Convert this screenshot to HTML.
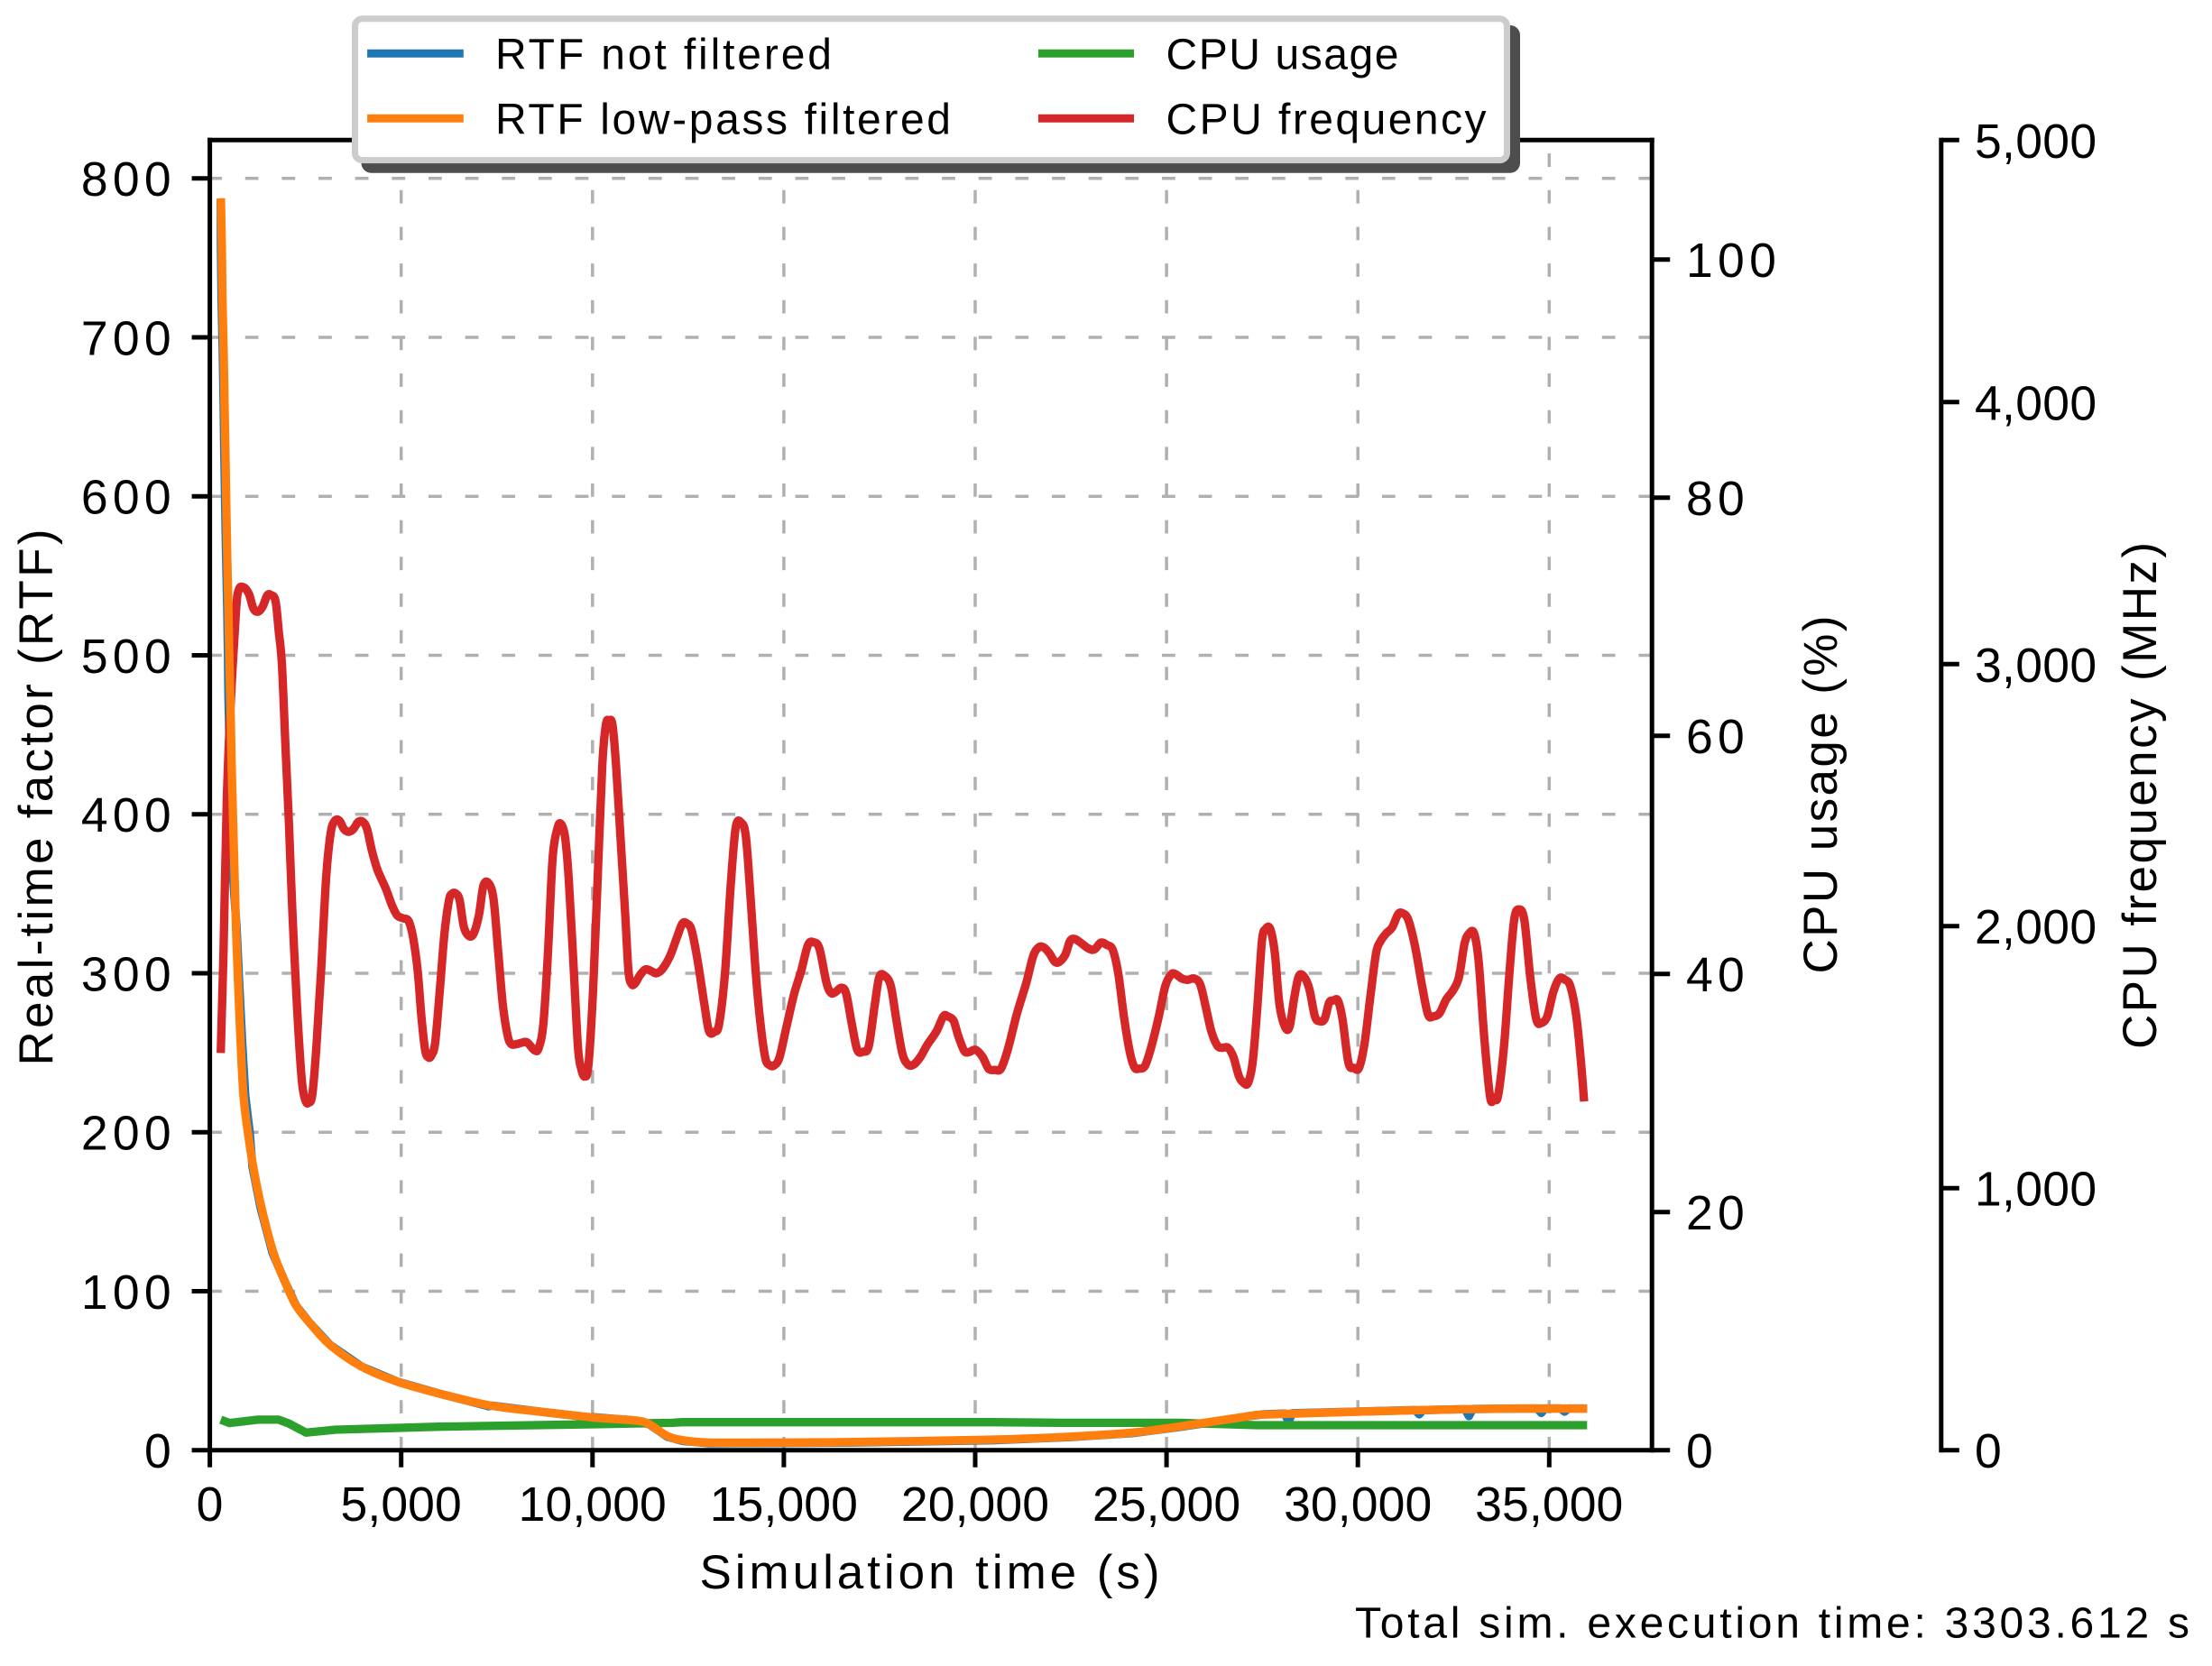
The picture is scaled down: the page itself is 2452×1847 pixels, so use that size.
<!DOCTYPE html>
<html lang="en">
<head>
<meta charset="utf-8">
<title>RTF and CPU chart</title>
<style>
html,body{margin:0;padding:0;background:#fff;}
body{width:2452px;height:1847px;overflow:hidden;}
svg{display:block;}
text{font-family:"Liberation Sans",sans-serif;fill:#000;}
</style>
</head>
<body>
<svg id="chart" xmlns="http://www.w3.org/2000/svg" width="2452" height="1847" viewBox="0 0 2452 1847">
  <rect x="0" y="0" width="2452" height="1847" fill="#fff"/>
  <g id="grid"></g>
  <g id="series"></g>
  <g id="axes"></g>

  <text x="1030.5" y="1761" text-anchor="middle" font-size="53" textLength="510" lengthAdjust="spacing">Simulation time (s)</text>
  <text transform="translate(58,884) rotate(-90)" text-anchor="middle" font-size="53" textLength="595" lengthAdjust="spacing">Real-time factor (RTF)</text>
  <text transform="translate(2036,881) rotate(-90)" text-anchor="middle" font-size="53" textLength="397" lengthAdjust="spacing">CPU usage (%)</text>
  <text transform="translate(2390,882) rotate(-90)" text-anchor="middle" font-size="53" textLength="562" lengthAdjust="spacing">CPU frequency (MHz)</text>
  <text x="1502" y="1815.7" font-size="48" textLength="925" lengthAdjust="spacing">Total sim. execution time: 3303.612 s</text>

  <g>
    <rect x="400.5" y="28" width="1284.5" height="163.7" rx="11" fill="#4d4d4d"/>
    <rect x="393.5" y="20.8" width="1277" height="156.8" rx="8" fill="#fff" stroke="#cccccc" stroke-width="7"/>
    <g>
      <line x1="407.1" x2="513.8" y1="59.3" y2="59.3" stroke="#1f77b4" stroke-width="9"/>
      <text x="549" y="76.7" font-size="48" textLength="373" lengthAdjust="spacing">RTF not filtered</text>
    </g>
    <g>
      <line x1="407.1" x2="513.8" y1="131.3" y2="131.3" stroke="#ff7f0e" stroke-width="9"/>
      <text x="549" y="148.3" font-size="48" textLength="505" lengthAdjust="spacing">RTF low-pass filtered</text>
    </g>
    <g>
      <line x1="1150.9" x2="1257" y1="59.3" y2="59.3" stroke="#2ca02c" stroke-width="9"/>
      <text x="1292.5" y="76.7" font-size="48" textLength="258" lengthAdjust="spacing">CPU usage</text>
    </g>
    <g>
      <line x1="1150.9" x2="1257" y1="131.3" y2="131.3" stroke="#d62728" stroke-width="9"/>
      <text x="1292.5" y="148.3" font-size="48" textLength="355" lengthAdjust="spacing">CPU frequency</text>
    </g>
  </g>
</svg>
<script>
const xTicks = [0, 5000, 10000, 15000, 20000, 25000, 30000, 35000];
const xTickLabels = ['0', '5,000', '10,000', '15,000', '20,000', '25,000', '30,000', '35,000'];
const rtfTicks = [0, 100, 200, 300, 400, 500, 600, 700, 800];
const rtfTickLabels = ['0', '100', '200', '300', '400', '500', '600', '700', '800'];
const usageTicks = [0, 20, 40, 60, 80, 100];
const usageTickLabels = ['0', '20', '40', '60', '80', '100'];
const freqTicks = [0, 1000, 2000, 3000, 4000, 5000];
const freqTickLabels = ['0', '1,000', '2,000', '3,000', '4,000', '5,000'];

const blueTime = [285,290,306,337,360,378,401,425,456,474,486,502,519,556,597,699,768,841,926,1044,1112,1326,1639,1980,2254,2612,3153,3965,4912,5994,7180,7280,7380,8700,9790,9890,9990,11135,11475,11947,12353,13030,15000,16820,20440,22478,24104,25323,26584,26684,26784,27152,27558,28088,28188,28288,29590,31500,31602,31704,32800,32902,33004,33857,34690,34792,34894,35300,35402,35504,35990];
const blueRtf = [787,756,724,691,659,626,593.5,562,528,499,474,458,435,400,364,329,294,258.5,223,199.5,178.5,152.5,124,105,91,80,66,52.6,43,35.6,28.3,27.6,28,24,21,17.2,20.8,18.6,16.3,8.5,5.8,4.4,4.5,4.8,6.2,8.2,10.7,14.5,19,16.3,19.5,21.4,22.6,23,18,23.2,24,25.2,22.5,25.2,25.8,21.4,25.9,26.1,26.2,23.4,26.2,26.2,24.2,26.2,26.2];

const orangeTime = [290,314,330,361,384,408,431,455,486,509,533,549,566,603,644,684,738,801,879,997,1132,1351,1664,1980,2254,2612,3153,3965,4912,5994,7347,8700,10053,11135,11475,11947,12353,13030,15000,16820,20440,22478,24104,25323,27152,27558,29590,31622,33857,35990];
const orangeRtf = [787.5,756,724,691,659,626,593.5,562,528,499,474,458,435,400,364,329,294,258.5,223,199.5,178.5,152.5,124,105,91,80,66,52.6,43,35.6,28,24,20.5,18.6,16.3,9,6.3,4.8,4.8,5.1,6.6,8.5,11,14.8,21.4,22.4,23.9,25.2,26.1,26.1];

const usageTime = [285,514,1258,1800,2070,2517,3288,5994,10053,12082,12353,20446,22275,25323,27355,35990];
const usagePercent = [2.56,2.28,2.56,2.56,2.23,1.47,1.72,1.97,2.18,2.3,2.35,2.35,2.3,2.3,2.1,2.1];

const freqTime = [285,357,441,537,682,754,874,1018,1139,1259,1379,1499,1596,1716,1800,1884,1981,2065,2161,2281,2402,2498,2582,2678,2786,2907,3039,3159,3268,3388,3508,3628,3749,3881,4001,4109,4242,4386,4602,4747,4891,5047,5192,5312,5432,5528,5625,5709,5793,5889,6010,6130,6250,6334,6431,6527,6635,6755,6888,7032,7152,7297,7417,7537,7657,7778,7874,8018,8175,8295,8487,8595,8716,8836,8956,9077,9173,9281,9377,9497,9618,9702,9798,9894,10015,10135,10255,10351,10435,10520,10616,10736,10856,10940,11025,11121,11241,11386,11542,11662,11819,12023,12204,12348,12468,12588,12745,12925,13045,13190,13310,13466,13611,13743,13887,14008,14128,14248,14368,14513,14633,14753,14886,15066,15270,15451,15631,15787,15932,16112,16232,16353,16509,16629,16774,16918,17074,17219,17375,17495,17640,17796,17940,18097,18241,18397,18569,18749,18990,19170,19291,19435,19555,19712,19832,20012,20193,20349,20517,20674,20854,21095,21335,21516,21660,21792,21937,22081,22201,22358,22478,22598,22754,22959,23115,23284,23440,23596,23741,23885,24041,24162,24282,24438,24607,24799,24967,25124,25244,25400,25545,25725,25881,26026,26170,26326,26447,26603,26747,26892,27012,27132,27253,27373,27493,27589,27710,27830,27950,28094,28215,28335,28455,28588,28732,28876,28997,29129,29249,29357,29478,29598,29754,29899,30031,30175,30331,30476,30596,30740,30897,31053,31173,31318,31498,31679,31835,31979,32135,32304,32484,32641,32785,32905,33038,33158,33302,33458,33566,33663,33819,33964,34084,34204,34349,34505,34661,34806,34950,35106,35263,35407,35551,35708,35828,35912];
const freqMhz = [1516,1899,2470,2827,3198,3283,3294,3269,3212,3200,3219,3262,3264,3241,3126,2998,2670,2399,2042,1685,1414,1335,1326,1357,1542,1828,2184,2356,2402,2402,2370,2360,2370,2398,2398,2370,2284,2213,2142,2084,2042,2030,2020,1956,1828,1656,1528,1499,1507,1556,1756,1970,2099,2124,2124,2099,1999,1964,1970,2042,2156,2162,2099,1899,1699,1585,1550,1550,1556,1556,1526,1535,1628,1899,2256,2370,2391,2341,2184,1870,1542,1457,1426,1471,1756,2184,2613,2770,2783,2770,2613,2327,2042,1828,1778,1783,1813,1835,1828,1820,1835,1885,1956,2010,2010,1985,1870,1699,1599,1597,1628,1828,2156,2377,2395,2341,2113,1856,1656,1499,1469,1469,1499,1614,1742,1828,1928,1938,1913,1785,1745,1749,1765,1742,1628,1528,1521,1542,1699,1806,1810,1771,1642,1514,1472,1472,1501,1547,1599,1656,1655,1639,1582,1524,1519,1528,1501,1456,1451,1456,1530,1668,1783,1886,1919,1919,1897,1864,1864,1892,1943,1951,1937,1915,1911,1937,1928,1909,1817,1656,1519,1461,1456,1467,1542,1656,1771,1816,1816,1800,1795,1800,1777,1691,1599,1544,1536,1536,1501,1427,1402,1402,1484,1691,1943,1989,1989,1897,1702,1616,1616,1725,1808,1808,1760,1656,1637,1645,1708,1716,1716,1645,1478,1459,1459,1553,1737,1897,1943,1972,1995,2046,2049,2024,1920,1771,1662,1656,1668,1719,1754,1805,1932,1972,1972,1863,1576,1346,1346,1352,1542,1828,2024,2064,2024,1805,1645,1631,1656,1748,1800,1796,1771,1656,1484,1331];

const PLOT_LEFT = 232.6, PLOT_RIGHT = 1831.2, PLOT_TOP = 155.3, PLOT_BOTTOM = 1607.7, FAR_SPINE = 2151.8;
const LEFT_ZERO_TO_800 = 1410, USAGE_ZERO_TO_100 = 1320, FREQ_ZERO_TO_5000 = 1452.4, X_ZERO_TO_35000 = 1484.7;

function scaleX(t) { return PLOT_LEFT + t / 35000 * X_ZERO_TO_35000; }
function scaleRtf(v) { return PLOT_BOTTOM - v / 800 * LEFT_ZERO_TO_800; }
function scaleUsage(v) { return PLOT_BOTTOM - v / 100 * USAGE_ZERO_TO_100; }
function scaleFreq(v) { return PLOT_BOTTOM - v / 5000 * FREQ_ZERO_TO_5000; }

const NS = 'http://www.w3.org/2000/svg';
function make(tag, parent, attrs) {
  const el = document.createElementNS(NS, tag);
  for (const k in attrs) el.setAttribute(k, attrs[k]);
  parent.appendChild(el);
  return el;
}
const gridG = document.getElementById('grid');
const seriesG = document.getElementById('series');
const axesG = document.getElementById('axes');

function gridLine(x1, y1, x2, y2) {
  const el = make('line', gridG, {x1: x1, y1: y1, x2: x2, y2: y2, stroke: '#b0b0b0', 'stroke-width': 3.5, 'stroke-dasharray': '14.8 25.85'});
  
  
}
xTicks.forEach(function (t) { if (t > 0) gridLine(scaleX(t), PLOT_BOTTOM, scaleX(t), PLOT_TOP); });
rtfTicks.forEach(function (v) { if (v > 0) gridLine(PLOT_LEFT - 1.5, scaleRtf(v), PLOT_RIGHT, scaleRtf(v)); });

function polyPath(px) {
  return 'M' + px.map(function (p) { return p[0].toFixed(2) + ' ' + p[1].toFixed(2); }).join('L');
}
function smoothPath(px) {
  let d = 'M' + px[0][0].toFixed(2) + ' ' + px[0][1].toFixed(2);
  for (let i = 0; i < px.length - 1; i++) {
    const p0 = px[Math.max(0, i - 1)], p1 = px[i], p2 = px[i + 1], p3 = px[Math.min(px.length - 1, i + 2)];
    const c1x = p1[0] + (p2[0] - p0[0]) / 6, c1y = p1[1] + (p2[1] - p0[1]) / 6;
    const c2x = p2[0] - (p3[0] - p1[0]) / 6, c2y = p2[1] - (p3[1] - p1[1]) / 6;
    d += 'C' + c1x.toFixed(2) + ' ' + c1y.toFixed(2) + ' ' + c2x.toFixed(2) + ' ' + c2y.toFixed(2) + ' ' + p2[0].toFixed(2) + ' ' + p2[1].toFixed(2);
  }
  return d;
}
function drawSeries(name, color, xs, ys, yScale, smooth) {
  const px = xs.map(function (t, i) { return [scaleX(t), yScale(ys[i])]; });
  const el = make('path', seriesG, {d: smooth ? smoothPath(px) : polyPath(px), fill: 'none', stroke: color, 'stroke-width': 9.3, 'stroke-linejoin': 'round', 'stroke-linecap': 'butt'});
  
  
}
drawSeries('series-rtf-not-filtered', '#1f77b4', blueTime, blueRtf, scaleRtf, false);
drawSeries('series-cpu-frequency', '#d62728', freqTime, freqMhz, scaleFreq, true);
drawSeries('series-cpu-usage', '#2ca02c', usageTime, usagePercent, scaleUsage, false);
drawSeries('series-rtf-low-pass', '#ff7f0e', orangeTime, orangeRtf, scaleRtf, true);

function axisLine(name, x1, y1, x2, y2) {
  const el = make('line', axesG, {x1: x1, y1: y1, x2: x2, y2: y2, stroke: '#000', 'stroke-width': 5, 'stroke-linecap': 'square'});
  
  
}
function tickLine(name, x1, y1, x2, y2) {
  const el = make('line', axesG, {x1: x1, y1: y1, x2: x2, y2: y2, stroke: '#000', 'stroke-width': 5});
  
  
}
function tickLabel(name, txt, x, y, anchor, spacing) {
  const el = make('text', axesG, {x: x, y: y, 'text-anchor': anchor, 'font-size': 53.5, 'letter-spacing': spacing});
  
  
  el.textContent = txt;
}
axisLine('left-spine', PLOT_LEFT, PLOT_TOP, PLOT_LEFT, PLOT_BOTTOM);
axisLine('bottom-spine', PLOT_LEFT, PLOT_BOTTOM, PLOT_RIGHT, PLOT_BOTTOM);
axisLine('top-spine', PLOT_LEFT, PLOT_TOP, PLOT_RIGHT, PLOT_TOP);
axisLine('right-spine', PLOT_RIGHT, PLOT_TOP, PLOT_RIGHT, PLOT_BOTTOM);
axisLine('far-right-spine', FAR_SPINE, PLOT_TOP, FAR_SPINE, PLOT_BOTTOM);

xTicks.forEach(function (t, i) {
  tickLine('x-tick', scaleX(t), PLOT_BOTTOM, scaleX(t), PLOT_BOTTOM + 19);
  tickLabel('x-tick-label', xTickLabels[i], scaleX(t), 1686, 'middle', 0.1);
});
rtfTicks.forEach(function (v, i) {
  tickLine('rtf-tick', PLOT_LEFT, scaleRtf(v), PLOT_LEFT - 20, scaleRtf(v));
  tickLabel('rtf-tick-label', rtfTickLabels[i], 195, scaleRtf(v) + 19.5, 'end', 5.3);
});
usageTicks.forEach(function (v, i) {
  tickLine('cpu-usage-tick', PLOT_RIGHT, scaleUsage(v), PLOT_RIGHT + 20, scaleUsage(v));
  tickLabel('cpu-usage-tick-label', usageTickLabels[i], 1869, scaleUsage(v) + 19.5, 'start', 5.3);
});
freqTicks.forEach(function (v, i) {
  tickLine('cpu-frequency-tick', FAR_SPINE, scaleFreq(v), FAR_SPINE + 20, scaleFreq(v));
  tickLabel('cpu-frequency-tick-label', freqTickLabels[i], 2189, scaleFreq(v) + 19.5, 'start', 0.3);
});
</script>
</body>
</html>
